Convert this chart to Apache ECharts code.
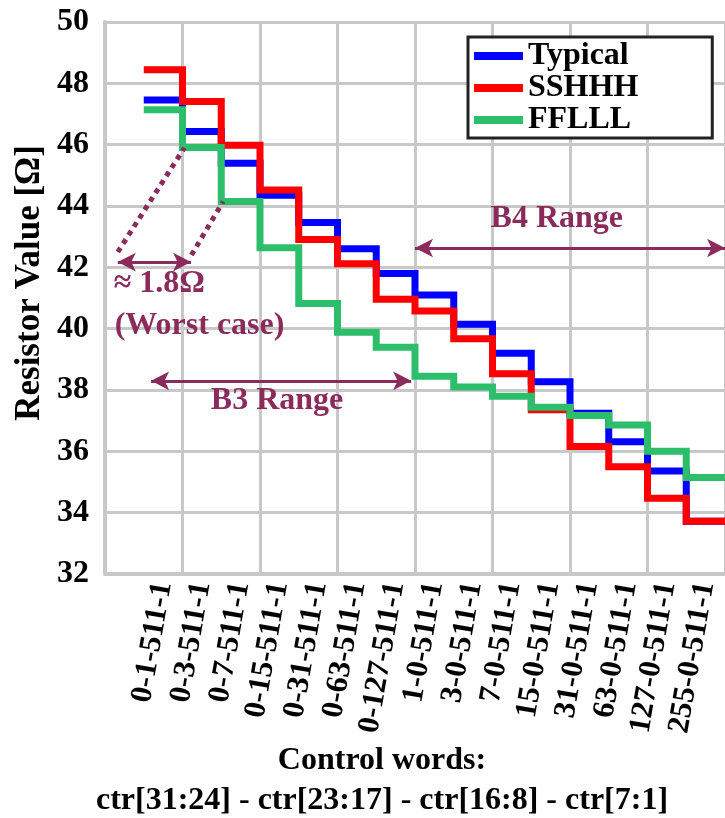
<!DOCTYPE html>
<html>
<head>
<meta charset="utf-8">
<script src="https://cdn.jsdelivr.net/npm/echarts@6/dist/echarts.min.js"></script>
<style>
  html, body { margin: 0; padding: 0; background: #fff; }
  #chart { width: 725px; height: 818px; }
</style>
</head>
<body>
<div id="chart"></div>
<script>
// ---- data ----
const categories = ['0-1-511-1','0-3-511-1','0-7-511-1','0-15-511-1','0-31-511-1','0-63-511-1','0-127-511-1',
  '1-0-511-1','3-0-511-1','7-0-511-1','15-0-511-1','31-0-511-1','63-0-511-1','127-0-511-1','255-0-511-1'];
const typical = [47.46, 46.43, 45.39, 44.35, 43.46, 42.61, 41.80, 41.10, 40.14, 39.20, 38.27, 37.24, 36.31, 35.36, 33.72];
const sshhh   = [48.44, 47.41, 45.98, 44.52, 42.91, 42.12, 40.96, 40.58, 39.67, 38.53, 37.36, 36.16, 35.50, 34.47, 33.72];
const fflll   = [47.14, 45.91, 44.15, 42.64, 40.82, 39.88, 39.39, 38.45, 38.10, 37.80, 37.44, 37.17, 36.86, 36.00, 35.15];
const yTicks = [32, 34, 36, 38, 40, 42, 44, 46, 48, 50];

// annotation anchors in data space [x, value]
const dotLine1 = [[0.33, 42.5], [2.05, 45.9]];
const dotLine2 = [[2.23, 42.4], [3.05, 44.15]];
const worstArrow = [[0.33, 42.17], [2.22, 42.17]];
const b3Arrow = [[1.19, 38.3], [7.9, 38.3]];
const b4Arrow = [[8.0, 42.63], [16.0, 42.63]];
const annotTexts = [
  { text: '≈ 1.8Ω', at: [1.40, 41.46] },
  { text: '(Worst case)', at: [2.44, 40.09] },
  { text: 'B3 Range', at: [4.44, 37.64] },
  { text: 'B4 Range', at: [11.66, 43.59] }
];

const FONT = '"Liberation Serif", "Times New Roman", serif';
const MAROON = '#8B2B5B';
const GRID = '#C8C8C8';

function stepData(vals) {
  const d = vals.map((v, i) => [i + 1, v]);
  d.push([vals.length + 1, vals[vals.length - 1]]);
  return d;
}

function lineSeries(name, vals, color) {
  return {
    name: name, type: 'line', step: 'end', data: stepData(vals),
    xAxisIndex: 0, yAxisIndex: 0,
    symbol: 'none', showSymbol: false,
    lineStyle: { color: color, width: 7, join: 'miter' },
    itemStyle: { color: color },
    emphasis: { disabled: true },
    animation: false
  };
}

const chart = echarts.init(document.getElementById('chart'), null, { renderer: 'canvas' });

const option = {
  animation: false,
  backgroundColor: '#ffffff',
  grid: { left: 105, top: 22, width: 630, height: 552, containLabel: false },
  xAxis: [
    {
      type: 'value', min: 0, max: 16, interval: 2, position: 'bottom',
      axisLabel: { show: false }, axisTick: { show: false },
      axisLine: { show: true, lineStyle: { color: GRID, width: 4 } },
      splitLine: { show: true, lineStyle: { color: GRID, width: 3 } }
    },
    {
      type: 'category', position: 'bottom', boundaryGap: true,
      data: [''].concat(categories),
      axisLine: { show: false }, axisTick: { show: false }, splitLine: { show: false },
      axisLabel: {
        interval: 0, rotate: 80, margin: 8,
        fontFamily: FONT, fontWeight: 'bold', fontSize: 31, color: '#000'
      }
    }
  ],
  yAxis: {
    type: 'value', min: yTicks[0], max: yTicks[yTicks.length - 1], interval: 2,
    axisLine: { show: true, lineStyle: { color: GRID, width: 4 } },
    axisTick: { show: false },
    splitLine: { show: true, lineStyle: { color: GRID, width: 3 } },
    axisLabel: { margin: 16, fontFamily: FONT, fontWeight: 'bold', fontSize: 32, color: '#000' }
  },
  legend: {
    data: ['Typical', 'SSHHH', 'FFLLL'],
    orient: 'vertical', left: 468, top: 37,
    padding: [3, 74, 2, 6], itemGap: 0,
    borderColor: '#222', borderWidth: 3, backgroundColor: '#fff',
    icon: 'rect', itemWidth: 49, itemHeight: 8,
    textStyle: { fontFamily: FONT, fontWeight: 'bold', fontSize: 32, color: '#000', lineHeight: 31 },
    selectedMode: false
  },
  graphic: [
    {
      type: 'text', x: 30, y: 283, rotation: Math.PI / 2,
      style: { text: 'Resistor Value [Ω]', fontFamily: FONT, fontWeight: 'bold', fontSize: 35,
               fill: '#000', align: 'center', verticalAlign: 'middle' }
    },
    {
      type: 'text', x: 382, y: 761,
      style: { text: 'Control words:', fontFamily: FONT, fontWeight: 'bold', fontSize: 32,
               fill: '#000', align: 'center', verticalAlign: 'middle' }
    },
    {
      type: 'text', x: 382, y: 801,
      style: { text: 'ctr[31:24] - ctr[23:17] - ctr[16:8] - ctr[7:1]', fontFamily: FONT, fontWeight: 'bold', fontSize: 32,
               fill: '#000', align: 'center', verticalAlign: 'middle' }
    }
  ],
  series: [
    lineSeries('Typical', typical, '#0000FF'),
    lineSeries('SSHHH', sshhh, '#FF0000'),
    lineSeries('FFLLL', fflll, '#2DBE6C'),
    {
      name: 'annot', type: 'line', data: [], xAxisIndex: 0, yAxisIndex: 0,
      symbol: 'none', animation: false, silent: true,
      markLine: {
        silent: true, animation: false,
        symbol: ['arrow', 'arrow'], symbolSize: [14, 18],
        label: { show: false },
        emphasis: { disabled: true },
        lineStyle: { color: MAROON, width: 3, type: 'solid' },
        data: [
          [{ coord: dotLine1[0], symbol: 'none', lineStyle: { type: [5, 5], width: 5, color: MAROON } },
           { coord: dotLine1[1], symbol: 'none' }],
          [{ coord: dotLine2[0], symbol: 'none', lineStyle: { type: [5, 5], width: 5, color: MAROON } },
           { coord: dotLine2[1], symbol: 'none' }],
          [{ coord: worstArrow[0] }, { coord: worstArrow[1] }],
          [{ coord: b3Arrow[0] }, { coord: b3Arrow[1] }],
          [{ coord: b4Arrow[0] }, { coord: b4Arrow[1] }]
        ]
      },
      markPoint: {
        silent: true, animation: false,
        symbol: 'circle', symbolSize: 0,
        label: {
          show: true, position: 'inside',
          fontFamily: FONT, fontWeight: 'bold', fontSize: 32, color: MAROON,
          formatter: (p) => p.name
        },
        data: annotTexts.map(t => ({ name: t.text, coord: t.at }))
      }
    }
  ]
};

chart.setOption(option);
</script>
</body>
</html>
